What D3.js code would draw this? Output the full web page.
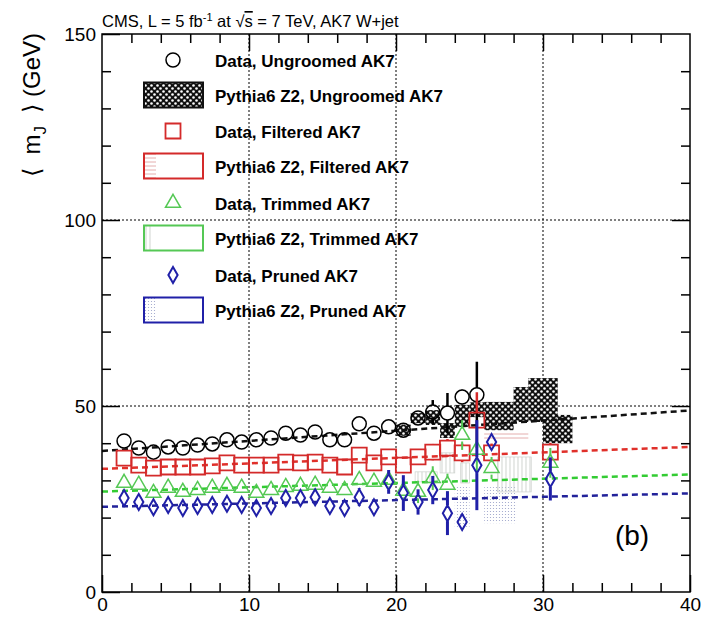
<!DOCTYPE html>
<html>
<head>
<meta charset="utf-8">
<script src="https://cdn.jsdelivr.net/npm/d3@7"></script>
<style>
body { margin: 0; background: #fff; }
text { font-family: "Liberation Sans", Arial, Helvetica, sans-serif; }
</style>
</head>
<body>
<svg id="chart" width="707" height="619"></svg>
<script>
// bin centres of the data points (x axis, no title in the figure)
var binCenters = [1.5, 2.5, 3.5, 4.5, 5.5, 6.5, 7.5, 8.5, 9.5, 10.5, 11.5, 12.5, 13.5, 14.5,
                  15.5, 16.5, 17.5, 18.5, 19.5, 20.5, 21.5, 22.5, 23.5, 24.5, 25.5, 26.5, 30.5];

// data, mean jet mass (GeV) and stat. error
var ungroomedMean = [40.6, 38.7, 37.6, 39.0, 38.7, 39.5, 39.8, 40.9, 40.3, 40.9, 41.4, 42.7, 42.2, 43.0,
                     40.9, 40.9, 45.2, 42.7, 44.4, 43.5, 46.8, 48.4, 48.1, 52.4, 53.0, null, null];
var ungroomedErr  = [0.6, 0.6, 0.6, 0.6, 0.6, 0.6, 0.6, 0.6, 0.7, 0.7, 0.8, 0.8, 0.9, 0.9,
                     1.0, 1.0, 1.1, 1.2, 1.3, 1.5, 1.8, 3.2, 5.4, 2.0, 8.9, null, null];
var filteredMean  = [36.0, 34.1, 33.3, 33.6, 33.6, 33.6, 33.9, 34.7, 34.1, 34.1, 34.1, 34.9, 34.7, 34.9,
                     34.1, 33.6, 36.8, 34.7, 36.3, 34.1, 36.3, 37.6, 38.7, 37.4, 46.2, 37.4, 37.6];
var filteredErr   = [0.5, 0.5, 0.5, 0.5, 0.5, 0.5, 0.5, 0.6, 0.6, 0.6, 0.7, 0.7, 0.8, 0.8,
                     0.9, 0.9, 1.0, 1.1, 1.2, 1.3, 1.5, 2.2, 2.4, 2.5, 7.5, 2.5, 2.5];
var trimmedMean   = [29.3, 28.8, 26.6, 28.0, 26.9, 27.4, 28.0, 28.5, 28.0, 26.6, 27.4, 28.2, 28.5, 28.8,
                     28.0, 27.4, 30.1, 29.6, 30.1, 27.2, 26.9, 30.6, 28.8, 42.2, 38.2, 33.3, 34.7];
var trimmedErr    = [0.5, 0.5, 0.5, 0.5, 0.5, 0.5, 0.5, 0.6, 0.6, 0.6, 0.7, 0.7, 0.8, 0.8,
                     0.9, 0.9, 1.0, 1.2, 2.0, 2.5, 3.0, 3.2, 3.0, 4.0, 6.0, 3.0, 4.0];
var prunedMean    = [25.3, 24.2, 22.8, 23.4, 22.6, 23.1, 23.4, 23.7, 23.4, 22.6, 23.1, 25.3, 25.3, 25.5,
                     23.1, 22.6, 25.5, 22.8, 29.6, 26.6, 24.2, 27.4, 21.2, 18.8, 34.1, 40.3, 30.4];
var prunedErr     = [0.5, 0.5, 0.5, 0.5, 0.5, 0.5, 0.5, 0.6, 0.6, 0.6, 0.7, 1.5, 1.5, 1.5,
                     0.8, 1.0, 2.4, 2.0, 3.2, 4.8, 3.4, 3.8, 5.9, 0.8, 12.1, 1.0, 5.8];

// Pythia6 Z2 bands: [x low, x high, mass low, mass high]
var ungroomedMC = [[20, 21, 42.0, 45.0], [21, 22, 45.4, 48.1], [22, 23, 44.9, 48.9], [23, 24, 41.4, 45.4],
                   [24, 25, 44.4, 50.3], [25, 26, 47.0, 51.0], [26, 28, 43.5, 51.1], [28, 29, 45.7, 55.1],
                   [29, 31, 45.7, 57.5], [30, 32, 40.0, 47.6]];
var filteredMC  = [[26, 29, 40.8, 43.2]];
var trimmedMC   = [[21.3, 22.8, 29.6, 32.3], [23, 24, 32.0, 37.4], [24.4, 25, 29.3, 34.7], [26.9, 29.2, 26.9, 36.3]];
var prunedMC    = [[24, 25, 17.5, 28.5], [26, 28.2, 18.5, 28.2]];

// linear fits, evaluated at the axis ends
var fitX         = [0, 40];
var fitUngroomed = [37.9, 48.8];
var fitFiltered  = [33.1, 39.0];
var fitTrimmed   = [27.0, 31.6];
var fitPruned    = [22.9, 26.5];

var legendLabels = ["Data, Ungroomed AK7", "Pythia6 Z2, Ungroomed AK7",
                    "Data, Filtered AK7", "Pythia6 Z2, Filtered AK7",
                    "Data, Trimmed AK7", "Pythia6 Z2, Trimmed AK7",
                    "Data, Pruned AK7", "Pythia6 Z2, Pruned AK7"];

var svg = d3.select("#chart");
var x = d3.scaleLinear().domain([0, 40]).range([102, 690]);
var y = d3.scaleLinear().domain([0, 150]).range([592, 34]);

var cBlack = "#000", cRed = "#d42a2a", cGreen = "#55c855", cBlue = "#2020a8";

// fill patterns
var defs = svg.append("defs");
var pHatch = defs.append("pattern").attr("id", "hatch").attr("patternUnits", "userSpaceOnUse")
    .attr("width", 6).attr("height", 6);
pHatch.append("rect").attr("width", 6).attr("height", 6).attr("fill", "#111");
pHatch.append("circle").attr("cx", 1.5).attr("cy", 1.5).attr("r", 1.3).attr("fill", "#fff");
pHatch.append("circle").attr("cx", 4.5).attr("cy", 4.5).attr("r", 1.3).attr("fill", "#fff");

var pH = defs.append("pattern").attr("id", "hlines").attr("patternUnits", "userSpaceOnUse")
    .attr("width", 8).attr("height", 4);
pH.append("line").attr("x1", 0).attr("x2", 8).attr("y1", 2).attr("y2", 2)
    .attr("stroke", "#d99").attr("stroke-width", 0.8);

var pV = defs.append("pattern").attr("id", "vlines").attr("patternUnits", "userSpaceOnUse")
    .attr("width", 4).attr("height", 8);
pV.append("line").attr("x1", 2).attr("x2", 2).attr("y1", 0).attr("y2", 8)
    .attr("stroke", "#bcc2bc").attr("stroke-width", 0.7);

var pD = defs.append("pattern").attr("id", "dots").attr("patternUnits", "userSpaceOnUse")
    .attr("width", 3).attr("height", 3);
pD.append("circle").attr("cx", 1.5).attr("cy", 1.5).attr("r", 0.6).attr("fill", "#99a0c8");

defs.append("clipPath").attr("id", "plotclip").append("rect")
    .attr("x", 102).attr("y", 34).attr("width", 588).attr("height", 558);

// grid
var grid = svg.append("g").attr("stroke", "#000").attr("stroke-width", 1).attr("stroke-dasharray", "2,2");
grid.selectAll("line.gx").data([10, 20, 30]).enter().append("line")
    .attr("x1", function(d){ return x(d); }).attr("x2", function(d){ return x(d); })
    .attr("y1", y(0)).attr("y2", y(150));
grid.selectAll("line.gy").data([50, 100]).enter().append("line")
    .attr("x1", x(0)).attr("x2", x(40))
    .attr("y1", function(d){ return y(d); }).attr("y2", function(d){ return y(d); });

var plot = svg.append("g").attr("clip-path", "url(#plotclip)");

function drawBands(boxes, fill, stroke) {
    plot.append("g").selectAll("rect").data(boxes).enter().append("rect")
        .attr("x", function(d){ return x(d[0]); })
        .attr("width", function(d){ return x(d[1]) - x(d[0]); })
        .attr("y", function(d){ return y(d[3]); })
        .attr("height", function(d){ return y(d[2]) - y(d[3]); })
        .attr("fill", fill)
        .attr("stroke", stroke).attr("stroke-width", stroke == "none" ? 0 : 0.7);
}
drawBands(prunedMC, "url(#dots)", "none");
drawBands(trimmedMC, "url(#vlines)", "#ccd0cc");
drawBands(filteredMC, "url(#hlines)", "none");
drawBands(ungroomedMC, "url(#hatch)", "none");

// fit lines
var line = d3.line().x(function(d){ return x(d[0]); }).y(function(d){ return y(d[1]); });
[[fitUngroomed, "#111"], [fitFiltered, "#e0302a"], [fitTrimmed, "#33cc33"], [fitPruned, "#22229a"]]
.forEach(function(f) {
    plot.append("path")
        .datum(fitX.map(function(v, i){ return [v, f[0][i]]; }))
        .attr("d", line).attr("fill", "none")
        .attr("stroke", f[1]).attr("stroke-width", 2.5).attr("stroke-dasharray", "6,4");
});

// data points with error bars (bars not drawn inside the marker)
function drawSeries(means, errs, shape, size, halfH, color, sw, ew) {
    var pts = binCenters.map(function(c, i){ return {x: c, v: means[i], e: errs[i]}; })
        .filter(function(d){ return d.v != null; });
    var g = plot.append("g");
    pts.forEach(function(d) {
        var cx = x(d.x), cy = y(d.v), top = y(d.v + d.e), bot = y(d.v - d.e);
        if (cy - top > halfH) {
            g.append("line").attr("x1", cx).attr("x2", cx).attr("y1", top).attr("y2", cy - halfH)
                .attr("stroke", color).attr("stroke-width", ew);
            g.append("line").attr("x1", cx).attr("x2", cx).attr("y1", cy + halfH).attr("y2", bot)
                .attr("stroke", color).attr("stroke-width", ew);
        }
    });
    g.selectAll("path.m").data(pts).enter().append("path")
        .attr("d", d3.symbol().type(shape).size(size))
        .attr("transform", function(d){ return "translate(" + x(d.x) + "," + y(d.v) + ")"; })
        .attr("fill", "none").attr("stroke", color).attr("stroke-width", sw);
}
drawSeries(ungroomedMean, ungroomedErr, d3.symbolCircle, 154, 7, cBlack, 1.5, 2.5);
drawSeries(filteredMean, filteredErr, d3.symbolSquare, 225, 7.5, cRed, 1.8, 2.5);
drawSeries(trimmedMean, trimmedErr, d3.symbolTriangle, 97, 6.5, cGreen, 1.5, 2);
drawSeries(prunedMean, prunedErr, d3.symbolDiamond, 74, 8, cBlue, 2, 3);

// axes, ticks pointing inwards on all four sides
function ticks(axis, pos, vals, len, labels) {
    var a = axis.tickValues(vals).tickSizeInner(-len).tickSizeOuter(0).tickPadding(6);
    if (!labels) a.tickFormat("");
    var g = svg.append("g").attr("transform", pos).call(a);
    g.select(".domain").remove();
    g.selectAll("line").attr("stroke", "#000").attr("stroke-width", 1.5);
    g.selectAll("text").attr("font-size", 19).attr("fill", "#000")
        .style("font-family", "'Liberation Sans', Arial, sans-serif");
    return g;
}
var xMinor = d3.range(0, 41, 2).filter(function(v){ return v % 10; });
var yMinor = d3.range(0, 151, 10).filter(function(v){ return v % 50; });
ticks(d3.axisBottom(x), "translate(0,592)", [0, 10, 20, 30, 40], 17, true);
ticks(d3.axisBottom(x), "translate(0,592)", xMinor, 9, false);
ticks(d3.axisTop(x), "translate(0,34)", [10, 20, 30], 17, false);
ticks(d3.axisTop(x), "translate(0,34)", xMinor, 9, false);
ticks(d3.axisLeft(y), "translate(102,0)", [0, 50, 100, 150], 18, true);
ticks(d3.axisLeft(y), "translate(102,0)", yMinor, 9, false);
ticks(d3.axisRight(y), "translate(690,0)", [50, 100], 18, false);
ticks(d3.axisRight(y), "translate(690,0)", yMinor, 9, false);

svg.append("rect").attr("x", 102).attr("y", 34).attr("width", 588).attr("height", 558)
    .attr("fill", "none").attr("stroke", "#000").attr("stroke-width", 1.5);

// title
var title = svg.append("text").attr("x", 102).attr("y", 27).attr("font-size", 16.5).attr("fill", "#000");
title.append("tspan").text("CMS, L = 5 fb");
title.append("tspan").attr("dy", -6).attr("font-size", 11).text("-1");
title.append("tspan").attr("dy", 6).text(" at \u221A");
title.append("tspan").style("text-decoration", "overline").text("s");
title.append("tspan").text(" = 7 TeV, AK7 W+jet");

// y axis title
var yt = svg.append("text").attr("transform", "translate(40,33) rotate(-90)")
    .attr("text-anchor", "end").attr("font-size", 24).attr("fill", "#000");
yt.append("tspan").text("\u27E8\u00A0\u00A0m");
yt.append("tspan").attr("dy", 6).attr("font-size", 17).text("J");
yt.append("tspan").attr("dy", -6).text("\u00A0\u00A0\u27E9\u00A0(GeV)");

svg.append("text").attr("x", 632).attr("y", 545).attr("text-anchor", "middle")
    .attr("font-size", 28).attr("fill", "#000").text("(b)");

// legend
var legY = [60, 95, 131, 166, 203, 238, 275, 310];
var leg = svg.append("g");
leg.selectAll("text").data(legendLabels).enter().append("text")
    .attr("x", 215).attr("y", function(d, i){ return legY[i] + 6.5; })
    .attr("font-size", 17).attr("font-weight", "bold").attr("fill", "#000")
    .text(function(d){ return d; });

var legMarkers = [[d3.symbolCircle, 154, cBlack, 1.5], [d3.symbolSquare, 225, cRed, 1.8],
                  [d3.symbolTriangle, 97, cGreen, 1.5], [d3.symbolDiamond, 74, cBlue, 2]];
legMarkers.forEach(function(m, i) {
    leg.append("path").attr("d", d3.symbol().type(m[0]).size(m[1]))
        .attr("transform", "translate(173," + legY[i * 2] + ")")
        .attr("fill", "none").attr("stroke", m[2]).attr("stroke-width", m[3]);
});
var legBoxes = [["url(#hatch)", "#111", 59], ["url(#hlines)", cRed, 12],
                ["url(#vlines)", cGreen, 7], ["url(#dots)", cBlue, 12]];
legBoxes.forEach(function(b, i) {
    var cy = legY[i * 2 + 1];
    leg.append("rect").attr("x", 144).attr("y", cy - 12.5).attr("width", b[2]).attr("height", 25)
        .attr("fill", b[0]);
    leg.append("rect").attr("x", 144).attr("y", cy - 12.5).attr("width", 59).attr("height", 25)
        .attr("fill", "none").attr("stroke", b[1]).attr("stroke-width", 2);
});
</script>
</body>
</html>
